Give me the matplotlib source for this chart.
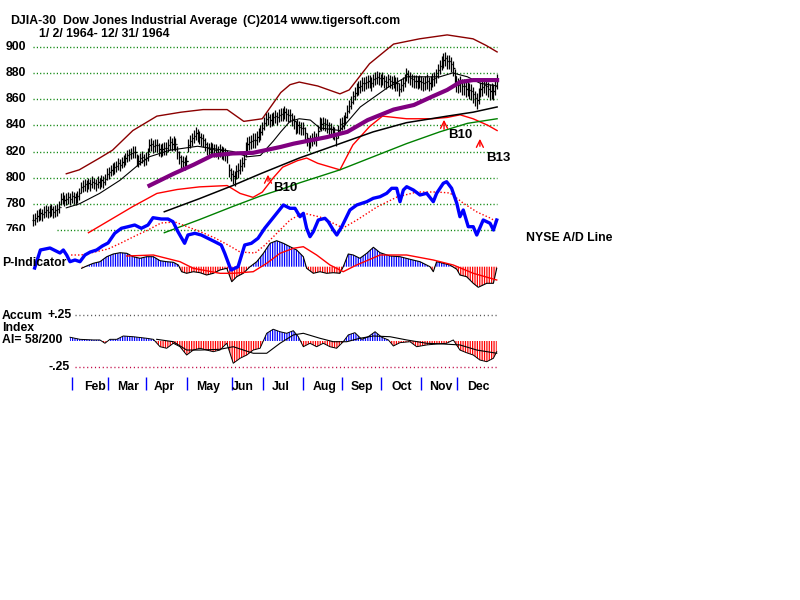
import numpy as np
import matplotlib
matplotlib.use("Agg")
import matplotlib.pyplot as plt
from matplotlib.transforms import Bbox, blended_transform_factory

plt.rcParams['font.family'] = ['Liberation Sans', 'DejaVu Sans']
plt.rcParams['font.weight'] = 'bold'
plt.rcParams['hatch.linewidth'] = 0.9

# ---- data ----
# DJIA daily closes, 1964 (trading day 0 .. 251)
close = [768, 769, 771, 772, 773, 772, 774, 775, 774, 775,
         776, 774, 775, 776, 778, 784, 785, 783, 784, 785,
         784, 786, 785, 784, 786, 788, 793, 794, 795, 794,
         796, 795, 797, 796, 795, 797, 796, 798, 797, 799,
         803, 804, 806, 807, 808, 809, 811, 810, 812, 813,
         815, 817, 818, 819, 820, 820, 814, 813, 815, 816,
         814, 815, 818, 825, 826, 824, 825, 825, 822, 821,
         822, 823, 823, 825, 827, 826, 827, 826, 820, 816,
         813, 812, 811, 813, 825, 828, 830, 832, 834, 833,
         831, 830, 829, 826, 823, 822, 823, 822, 821, 821,
         820, 821, 820, 819, 818, 817, 806, 803, 801, 800,
         805, 806, 809, 811, 814, 822, 826, 827, 828, 829,
         829, 831, 833, 835, 838, 842, 845, 846, 844, 845,
         846, 847, 846, 848, 849, 849, 850, 849, 848, 848,
         845, 843, 839, 840, 839, 838, 838, 834, 830, 826,
         828, 830, 831, 830, 836, 842, 841, 842, 841, 840,
         838, 837, 835, 834, 830, 836, 841, 842, 843, 846,
         851, 855, 858, 862, 865, 868, 869, 870, 872, 872,
         873, 874, 874, 872, 875, 876, 877, 876, 875, 876,
         874, 873, 875, 874, 873, 874, 872, 872, 868, 871,
         872, 875, 879, 878, 876, 875, 874, 874, 873, 874,
         873, 872, 873, 874, 872, 873, 875, 876, 878, 882,
         885, 888, 890, 891, 889, 889, 887, 884, 878, 872,
         871, 872, 870, 870, 868, 869, 867, 866, 864, 861,
         859, 863, 868, 869, 871, 870, 868, 866, 867, 866,
         870, 874]
# typical high-low range of the daily bars, by month
month_first_day = [0, 21, 41, 61, 83, 108, 124, 146, 167, 188, 210, 229]
month_range = [9, 9, 9, 10, 10, 11, 10, 10, 10, 10, 11, 12]

upper_d = [18, 25, 36, 43, 54, 67, 80, 92, 105, 114, 124, 130, 134, 139, 144, 154, 166, 171, 182, 195, 209, 224, 238, 245, 251]
upper_v = [803, 806, 815, 821, 836, 847, 850, 852, 852, 843, 845, 857, 865, 871, 873, 870, 864, 867, 887, 902, 906, 909, 906, 901, 896]
lower_d = [30, 42, 54, 67, 78, 90, 105, 112, 119, 124, 130, 135, 143, 148, 154, 166, 173, 182, 189, 202, 216, 224, 231, 238, 246, 251]
lower_v = [758, 768, 778, 788, 791, 793, 794, 788, 785, 789, 800, 808, 813, 815, 811, 806, 825, 839, 847, 845, 845, 846, 848, 845, 840, 836]
ma21_d = [18, 25, 36, 47, 58, 63, 74, 89, 103, 108, 116, 123, 130, 134, 139, 144, 150, 155, 166, 177, 192, 202, 220, 227, 235, 242, 251]
ma21_v = [777, 780, 788, 798, 811, 816, 821, 824, 821, 820, 816, 817, 828, 835, 843, 845, 844, 838, 836, 854, 869, 877, 877, 880, 877, 872, 870]
ma50_d = [63, 76, 87, 97, 108, 119, 134, 141, 159, 170, 181, 195, 206, 216, 224, 231, 238, 251]
ma50_v = [794, 803, 810, 817, 818.5, 819, 823.5, 826, 831, 835, 844, 852, 855.5, 862, 867, 873, 874.5, 874.5]
ma100_d = [71, 90, 108, 123, 144, 166, 184, 202, 224, 238, 251]
ma100_v = [774, 784, 794, 803, 815, 826, 835, 842, 847, 850, 854]
ma200_d = [71, 90, 108, 123, 134, 144, 166, 184, 202, 220, 235, 251]
ma200_v = [758, 768, 778, 786, 791, 796, 806, 816, 826, 835, 841.5, 845]

# NYSE A/D line (arbitrary cumulative units) and its moving average
ad_d = [0.9, 4, 9.2, 14.6, 16.4, 18.2, 20, 22.7, 25.4, 28.1, 31, 34.4, 37.5, 40.6,
        44.2, 47.8, 51.4, 55, 58.6, 62.2, 64.9, 69.4, 73, 75.7, 78.4, 82, 83.8, 87.5,
        91, 94.6, 98.3, 101.8, 103.7, 106.4, 107.2, 110.9, 114.5, 118.1, 121.7, 125.3,
        128.9, 131.8, 135.4, 139, 141.7, 144.4, 146.2, 148, 149.8, 151.6, 154.3, 157.9,
        159.7, 162.4, 164.3, 167, 171.4, 175.1, 180.5, 184, 187.7, 191.3, 194, 196.7,
        198.5, 200.3, 202.1, 205.7, 209.3, 212.9, 216.5, 218.3, 221.9, 223.7, 226.4,
        229.2, 230.9, 232.7, 235.4, 238.1, 240, 243.5, 247.2, 249, 250.8]
ad_v = [32, 50, 52, 47, 50, 45, 38.3, 40, 38.3, 45, 48, 50, 54, 57,
        66.7, 71.7, 73.3, 75, 71.7, 75, 82.3, 81, 81, 78.3, 68.3, 56.7, 65, 66.7,
        65, 61.7, 58.3, 55, 46.7, 33.3, 30, 33.3, 55, 56.7, 61.7, 71.7,
        80, 86.7, 95, 91.7, 91.7, 83.3, 86.7, 71.7, 63.3, 68.3, 80, 81.7,
        78.3, 70, 65, 73.3, 90, 95, 98.3, 101.7, 103.3, 106.7, 111.7, 111.7,
        98.3, 110, 113.3, 110, 105, 106.7, 98.3, 106.7, 116.7, 118.3, 111.7,
        96.7, 83.3, 90, 73.3, 73.3, 65, 80, 76.7, 70, 80]
adma_d = [20.6, 26, 33.5, 40.6, 47.6, 55.2, 62.2, 69.2, 76.8, 83.8, 90.9, 98.4, 105.5, 112, 120.1, 125.5,
          129.3, 139, 146, 155.2, 164.4, 167.7, 175.2, 186, 196.9, 207.7, 218.5, 225.5, 232.6, 240.1, 247.2, 250.9]
adma_v = [45, 45, 48, 51, 57, 64, 70, 77, 78, 73, 68, 62, 55, 48, 47, 55,
          62, 80, 87, 83, 75, 72, 80, 93, 103, 108, 108, 107, 97, 88, 82, 78]

# P-Indicator and its moving average
p_d = [26.3, 29, 32.6, 36.2, 39.9, 43.4, 47.1, 50.7, 54.2, 57.9, 61.5, 65.1, 68.7, 72.3, 75.9, 78.6,
       80.4, 83.1, 86.7, 90.3, 93.9, 97.5, 101.1, 104.8, 107.5, 110.2, 113.7, 117.4, 121, 124.6, 128.2,
       131.8, 135.4, 139, 142.6, 146.2, 148, 151.6, 155.2, 158.8, 162.4, 166, 167.8, 170.5, 173.2, 176.8,
       180.5, 184.1, 187.7, 193.1, 198.5, 203.9, 209.3, 214.7, 216.5, 218.3, 221.9, 225.5, 229.2, 230.9,
       234.5, 238.1, 240.8, 245.4, 249, 250.8]
p_v = [-1.6, 0.7, 3.4, 5, 10, 12.7, 14, 13.4, 10, 8.4, 10, 10, 6, 5, 4.4, 1.7,
       -5, -6.6, -5, -6, -8.3, -6.6, -3.3, -1.6, -15, -10, -6.6, 0, 5, 13.4, 23.4,
       26, 23.4, 20, 16.7, 10, -1.6, -6.6, -5, -6.6, -6, -6.6, 0, 12.7, 11.7, 8.4,
       13.4, 19.4, 14, 10.7, 10, 7.4, 5, 0, -5, 5, 3.4, 1.7, -2.6, -8.3,
       -10, -16.6, -20.6, -16.6, -16.6, -1.6]
pma_d = [50.7, 65.1, 79.5, 86.7, 101.1, 108.3, 119.1, 126.4, 133.6, 140.8, 146.2, 153.4, 160.6, 167.8,
         175, 182.3, 187.7, 202.1, 216.5, 227.3, 238.1, 250.8]
pma_v = [10.7, 11.7, 5, -1.6, -6.6, -6.6, -5, 3.4, 13.4, 18.4, 20, 11.7, 1.7, -5,
         1.7, 7.4, 11.7, 11.7, 6.7, 1.7, -6.6, -13.3]

# Accumulation Index and its moving average
ai_d = [20, 25.4, 32.6, 36.2, 38.9, 41.6, 45.3, 48.8, 54.2, 61.5, 65.1, 68.7, 72.3, 75.9, 79.5, 83.1,
        86.7, 90.3, 93.9, 97.5, 101.1, 104.8, 108.3, 112, 115.6, 119.1, 122.8, 126.4, 129.9, 133.6, 137.2,
        140.8, 143.5, 146.2, 149.8, 153.4, 157, 160.6, 164.2, 167.8, 170.5, 174.1, 177.8, 181.3, 185, 188.6,
        192.2, 194.9, 198.5, 203.9, 207.5, 212.9, 218.3, 223.7, 227.3, 230.9, 234.5, 238.1, 241.7, 245.4,
        249, 250.8]
ai_v = [0.036, 0.016, 0.010, 0.010, -0.022, 0.016, 0.016, 0.048, 0.041, 0.026, 0.016, -0.055, -0.070,
        -0.022, -0.055, -0.135, -0.087, -0.070, -0.087, -0.103, -0.087, -0.022, -0.214, -0.166, -0.135,
        -0.087, -0.070, 0.074, 0.113, 0.089, 0.074, 0.099, 0.041, -0.055, -0.022, -0.055, -0.022, -0.055,
        -0.070, -0.007, 0.058, 0.080, 0.016, 0.041, 0.089, 0.036, 0.010, -0.048, -0.016, -0.007, -0.055,
        -0.038, -0.029, -0.022, 0.010, -0.087, -0.113, -0.135, -0.183, -0.199, -0.166, -0.103]
aima_d = [66.9, 75.9, 83.1, 90.3, 101.1, 108.3, 119.1, 126.4, 133.6, 140.8, 146.2, 155.2, 162.4, 169.7,
          176.8, 184, 193.1, 202.1, 212.9, 221.9, 230.9, 240, 250.8]
aima_v = [0.016, -0.007, -0.087, -0.087, -0.080, -0.055, -0.118, -0.118, -0.022, 0.058, 0.074, 0.026,
          -0.007, -0.007, 0.026, 0.048, 0.041, 0.010, -0.022, -0.029, -0.038, -0.087, -0.118]

price_levels = [900, 880, 860, 840, 820, 800, 780, 760]
grid_start = [0, 0, 0, 0, 0, 0, 0, 13]

month_ticks = [21.1, 40.6, 61.1, 83.3, 107.6, 124.4, 146.0, 167.1, 188.2, 209.8, 229.3]
month_names = ['Feb', 'Mar', 'Apr', 'May', 'Jun', 'Jul', 'Aug', 'Sep', 'Oct', 'Nov', 'Dec']
month_label_x = [33.5, 51.4, 70.8, 94.6, 113.6, 134.1, 157.9, 177.9, 199.6, 220.7, 240.7]

signals = ['B10', 'B10', 'B13']
sig_day = [127.1, 222.3, 241.7]
sig_tail = [795.2, 834.9, 821.9]
sig_tip = [804.4, 846.3, 831.8]
sig_text_day = [129.8, 224.4, 245.0]
sig_text_val = [792.1, 832.6, 815.0]

FS = 8.8

# ---- layout helpers (pixel boxes on an 800x600 canvas) ----
W, H = 800, 600
fig = plt.figure(figsize=(8, 6), dpi=100)
fig.patch.set_facecolor('white')

PX0, PX1 = 20, 510
XLIM = ((PX0 - 33) / 1.849, (PX1 - 33) / 1.849)


def px_axes(y0, y1, ylim):
    a = fig.add_axes([PX0 / W, 1 - y1 / H, (PX1 - PX0) / W, (y1 - y0) / H])
    a.set_axis_off()
    a.set_xlim(*XLIM)
    a.set_ylim(*ylim)
    return a


def ptext(x, y, s, **kw):
    kw.setdefault('fontsize', FS)
    kw.setdefault('va', 'center')
    return fig.text(x / W, 1 - y / H, s, **kw)


# ---- price panel ----
ax = px_axes(25, 245, (748.63, 916.56))
days = np.arange(len(close))
c = np.array(close, dtype=float)
rng = np.array(month_range, dtype=float)[np.searchsorted(month_first_day, days, side='right') - 1]
opens = np.r_[c[0], c[:-1]]
ax.hlines(price_levels, grid_start, 251, colors='#008000', lw=1.0, linestyles=(0, (0.8, 1.6)))
ax.plot(upper_d, upper_v, color='#8b0000', lw=1)
ax.plot(lower_d, lower_v, color='red', lw=1)
ax.plot(ma200_d, ma200_v, color='#008000', lw=1)
ax.plot(ma100_d, ma100_v, color='black', lw=1.1)
ax.vlines(days, c - rng * 0.55, c + rng * 0.45, colors='black', lw=0.9)
ax.hlines(c, days, days + 0.6, colors='black', lw=0.9)
ax.hlines(opens, days - 0.6, days, colors='black', lw=0.9)
ax.plot(ma21_d, ma21_v, color='black', lw=0.8)
ax.plot(ma50_d, ma50_v, color='#800080', lw=3)

for name, d, t0, t1, td, tv in zip(signals, sig_day, sig_tail, sig_tip, sig_text_day, sig_text_val):
    ax.annotate('', xy=(d, t1), xytext=(d, t0),
                arrowprops=dict(arrowstyle='->,head_length=0.5,head_width=0.25', color='red', lw=1))
    ax.text(td, tv, name, fontsize=9.5, va='center', ha='left')

ytr = blended_transform_factory(ax.transAxes, ax.transData)
clip = Bbox.from_extents(0, H - 230.5, W, H)
for lv in price_levels:
    t = ax.text((26 - PX0) / (PX1 - PX0), lv, str(lv), transform=ytr, ha='right', va='center', fontsize=FS)
    if lv == 760:
        t.set_clip_box(clip)
        t.set_clip_on(True)

# ---- P-indicator ----
axp = px_axes(230, 300, (-33.3, 36.7))
pd_, pv = np.array(p_d), np.array(p_v)
axp.fill_between(pd_, 0, pv, where=pv >= 0, interpolate=True, facecolor='none',
                 edgecolor='blue', hatch='|' * 7, lw=0)
axp.fill_between(pd_, 0, pv, where=pv <= 0, interpolate=True, facecolor='none',
                 edgecolor='red', hatch='|' * 7, lw=0)
axp.plot(pd_, pv, color='black', lw=0.8)
axp.plot(pma_d, pma_v, color='red', lw=1)

# ---- A/D line (overlaid) ----
axa = px_axes(25, 300, (0, 275))
axa.plot(adma_d, adma_v, color='red', lw=1, ls=(0, (1, 1.5)))
axa.plot(ad_d, ad_v, color='blue', lw=2.4)

# ---- Accumulation index ----
axi = px_axes(305, 375, (-0.327, 0.346))
aid, aiv = np.array(ai_d), np.array(ai_v)
axi.hlines([0.25], 22.7, 251, colors='#555555', lw=1.0, linestyles=(0, (0.8, 2)))
axi.hlines([-0.25], 22.7, 251, colors='#c00040', lw=1.0, linestyles=(0, (0.8, 2)))
axi.fill_between(aid, 0, aiv, where=aiv >= 0, interpolate=True, facecolor='none',
                 edgecolor='blue', hatch='|' * 7, lw=0)
axi.fill_between(aid, 0, aiv, where=aiv <= 0, interpolate=True, facecolor='none',
                 edgecolor='red', hatch='|' * 7, lw=0)
axi.plot(aid, aiv, color='black', lw=0.7)
axi.plot(aima_d, aima_v, color='black', lw=0.8)

# ---- month axis ----
axm = px_axes(375, 395, (0, 1))
axm.vlines(month_ticks, 0.25, 0.9, colors='blue', lw=1)
for lx, nm in zip(month_label_x, month_names):
    axm.text(lx, 0.4, nm, ha='center', va='center', fontsize=FS)

# ---- texts ----
ptext(10, 21, 'DJIA-30')
ptext(63, 21, 'Dow Jones Industrial Average')
ptext(243, 21, '(C)2014 www.tigersoft.com')
ptext(39, 34, '1/ 2/ 1964- 12/ 31/ 1964')
ptext(526, 238, 'NYSE A/D Line')
ptext(2, 263, 'P-Indicator')
ptext(2, 316, 'Accum')
ptext(2, 328, 'Index')
ptext(2, 340, 'AI= 58/200')
ptext(72, 315, '+.25', ha='right')
ptext(70, 367, '-.25', ha='right')

fig.savefig('out.png', dpi=100)
